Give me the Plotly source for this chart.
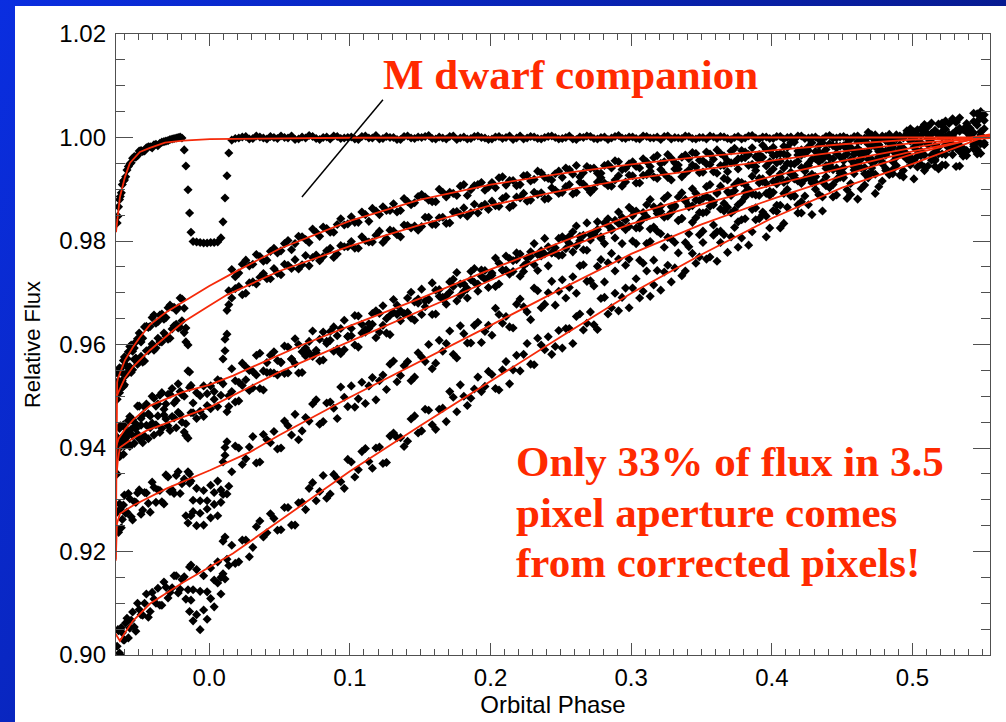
import base64
import plotly.graph_objects as go

# Orbital phase of each exposure (shared by all pixel light curves)
phase = [
    -0.0655, -0.0645, -0.0632, -0.0618, -0.0603, -0.0585, -0.0565, -0.0545, -0.0522, -0.0498,
    -0.0473, -0.0447, -0.0420, -0.0393, -0.0365, -0.0337, -0.0308, -0.0279, -0.0250, -0.0221, -0.0194,
    -0.0178, -0.0166, -0.0151, -0.0140, -0.0130, -0.0115, -0.0090, -0.0065, -0.0040, -0.0015,
    0.0010, 0.0035, 0.0060, 0.0083, 0.0098, 0.0112, 0.0126, 0.0139,
    0.016, 0.021, 0.026, 0.031, 0.036, 0.041, 0.046,
    0.051, 0.056, 0.061, 0.066, 0.071, 0.076, 0.081, 0.086, 0.091, 0.096,
    0.101, 0.106, 0.111, 0.116, 0.121, 0.126, 0.131, 0.136, 0.141, 0.146,
    0.151, 0.156, 0.161, 0.166, 0.171, 0.176, 0.181, 0.186, 0.191, 0.196,
    0.201, 0.206, 0.211, 0.216, 0.221, 0.226, 0.231, 0.236, 0.241, 0.246,
    0.251, 0.256, 0.261, 0.266, 0.271, 0.276, 0.281, 0.286, 0.291, 0.296,
    0.301, 0.306, 0.311, 0.316, 0.321, 0.326, 0.331, 0.336, 0.341, 0.346,
    0.351, 0.356, 0.361, 0.366, 0.371, 0.376, 0.381, 0.386, 0.391, 0.396,
    0.401, 0.406, 0.411, 0.416, 0.421, 0.426, 0.431, 0.436, 0.441, 0.446,
    0.451, 0.456, 0.461, 0.466, 0.471, 0.476, 0.481, 0.486, 0.491, 0.496,
    0.501, 0.506, 0.511, 0.516, 0.521, 0.526, 0.531, 0.536, 0.541, 0.546, 0.551,
]

# Relative flux, one list per pixel light curve
flux_a = [
    0.9835, 0.9866, 0.9886, 0.9909, 0.9918, 0.9937, 0.9949, 0.9960, 0.9962, 0.9974,
    0.9973, 0.9980, 0.9982, 0.9986, 0.9984, 0.9991, 0.9993, 0.9996, 0.9998, 1.0000, 0.9999,
    0.9976, 0.9945, 0.9899, 0.9854, 0.9817, 0.9799, 0.9798, 0.9797, 0.9796, 0.9796,
    0.9797, 0.9797, 0.9798, 0.9806, 0.9837, 0.9883, 0.9926, 0.9970,
    0.9995, 0.9999, 1.0002, 0.9998, 1.0001, 0.9997, 1.0000,
    1.0003, 0.9999, 0.9996, 1.0001, 1.0004, 0.9998, 1.0000, 0.9997, 1.0002, 0.9999,
    1.0001, 0.9996, 1.0003, 0.9999, 0.9997, 1.0002, 1.0000, 0.9996, 1.0003, 0.9998,
    1.0000, 1.0004, 0.9997, 0.9999, 1.0002, 0.9996, 1.0001, 0.9998, 1.0003, 0.9999,
    0.9997, 1.0002, 1.0000, 0.9996, 1.0003, 0.9999, 1.0001, 0.9997, 1.0002, 1.0000,
    0.9998, 1.0003, 0.9996, 1.0000, 1.0002, 0.9997, 1.0001, 0.9999, 1.0004, 0.9998,
    1.0001, 0.9997, 1.0002, 0.9999, 0.9996, 1.0003, 1.0000, 0.9998, 1.0002, 0.9997,
    1.0000, 1.0003, 0.9998, 1.0001, 0.9996, 1.0002, 0.9999, 1.0004, 0.9997, 1.0001,
    0.9998, 1.0002, 1.0000, 0.9996, 1.0003, 0.9999, 1.0001, 0.9997, 1.0004, 0.9999,
    1.0002, 0.9997, 1.0003, 0.9999, 1.0001, 0.9996, 1.0002, 0.9998, None, None,
    None, None, None, None, None, None, None, None, None, None, None,
]
flux_b = [
    0.9545, 0.9530, 0.9553, 0.9545, 0.9576, 0.9573, 0.9596, 0.9587, 0.9605, 0.9622,
    0.9612, 0.9635, 0.9635, 0.9657, 0.9644, 0.9659, 0.9652, 0.9676, 0.9672, 0.9671, 0.9688,
    0.9670, 0.9632, 0.9599, 0.9547, 0.9521, 0.9487, 0.9507, 0.9501, 0.9520, 0.9505,
    0.9520, 0.9509, 0.9532, 0.9529, 0.9572, 0.9610, 0.9666, 0.9704,
    0.9745, 0.9738, 0.9763, 0.9755, 0.9770, 0.9763, 0.9786,
    0.9781, 0.9801, 0.9795, 0.9808, 0.9797, 0.9817, 0.9827, 0.9817, 0.9832, 0.9831,
    0.9847, 0.9836, 0.9851, 0.9863, 0.9851, 0.9859, 0.9872, 0.9859, 0.9876, 0.9874,
    0.9890, 0.9879, 0.9876, 0.9894, 0.9894, 0.9888, 0.9909, 0.9899, 0.9909, 0.9898,
    0.9913, 0.9922, 0.9908, 0.9917, 0.9909, 0.9927, 0.9919, 0.9932, 0.9921, 0.9930,
    0.9923, 0.9938, 0.9946, 0.9932, 0.9940, 0.9931, 0.9946, 0.9941, 0.9953, 0.9940,
    0.9953, 0.9941, 0.9953, 0.9961, 0.9950, 0.9967, 0.9951, 0.9962, 0.9959, 0.9969,
    0.9955, 0.9968, 0.9976, 0.9964, 0.9974, 0.9959, 0.9972, 0.9980, 0.9967, 0.9977,
    0.9981, 0.9969, 0.9981, 0.9991, 0.9976, 0.9982, 0.9973, 0.9990, 0.9988, 0.9980,
    0.9984, 0.9997, 0.9979, 0.9995, 1.0005, 0.9986, 0.9994, 0.9981, 1.0002, 1.0013,
    0.9981, 1.0017, 1.0005, 0.9972, 1.0028, 0.9988, 1.0013, 0.9979, 1.0004, 1.0024, 0.9987,
]
flux_c = [
    0.9494, 0.9519, 0.9514, 0.9530, 0.9522, 0.9545, 0.9557, 0.9551, 0.9574, 0.9567,
    0.9566, 0.9588, 0.9592, 0.9589, 0.9612, 0.9605, 0.9616, 0.9612, 0.9636, 0.9632, 0.9646,
    0.9623, 0.9605, 0.9549, 0.9517, 0.9468, 0.9468, 0.9457, 0.9471, 0.9461, 0.9482,
    0.9476, 0.9494, 0.9480, 0.9502, 0.9524, 0.9588, 0.9620, 0.9677,
    0.9690, 0.9712, 0.9699, 0.9721, 0.9730, 0.9727, 0.9747,
    0.9735, 0.9753, 0.9764, 0.9754, 0.9752, 0.9773, 0.9770, 0.9786, 0.9775, 0.9789,
    0.9799, 0.9786, 0.9801, 0.9798, 0.9819, 0.9805, 0.9819, 0.9808, 0.9830, 0.9829,
    0.9828, 0.9846, 0.9832, 0.9846, 0.9835, 0.9857, 0.9864, 0.9855, 0.9854, 0.9871,
    0.9877, 0.9867, 0.9886, 0.9869, 0.9883, 0.9877, 0.9894, 0.9893, 0.9882, 0.9898,
    0.9894, 0.9909, 0.9894, 0.9910, 0.9894, 0.9914, 0.9912, 0.9906, 0.9926, 0.9914,
    0.9926, 0.9912, 0.9928, 0.9924, 0.9938, 0.9923, 0.9939, 0.9924, 0.9937, 0.9943,
    0.9933, 0.9948, 0.9931, 0.9946, 0.9951, 0.9939, 0.9961, 0.9948, 0.9957, 0.9945,
    0.9965, 0.9954, 0.9966, 0.9949, 0.9966, 0.9975, 0.9959, 0.9969, 0.9961, 0.9984,
    0.9963, 0.9981, 0.9992, 0.9970, 0.9984, 0.9963, 0.9995, 0.9987, 0.9972, 1.0008,
    1.0011, 0.9974, 1.0021, 0.9984, 0.9968, 1.0006, 1.0030, 0.9976, 1.0002, 0.9968, 1.0017,
]
flux_d = [
    0.9421, 0.9403, 0.9443, 0.9421, 0.9440, 0.9423, 0.9461, 0.9455, 0.9447, 0.9481,
    0.9464, 0.9485, 0.9462, 0.9496, 0.9485, 0.9507, 0.9485, 0.9504, 0.9487, 0.9524, 0.9503,
    0.9500, 0.9447, 0.9419, 0.9350, 0.9336, 0.9299, 0.9322, 0.9298, 0.9318, 0.9298,
    0.9328, 0.9314, 0.9336, 0.9319, 0.9373, 0.9401, 0.9470, 0.9501,
    0.9553, 0.9527, 0.9557, 0.9548, 0.9583, 0.9565, 0.9586,
    0.9566, 0.9595, 0.9611, 0.9586, 0.9606, 0.9589, 0.9624, 0.9625, 0.9617, 0.9647,
    0.9631, 0.9655, 0.9629, 0.9660, 0.9660, 0.9650, 0.9687, 0.9665, 0.9690, 0.9682,
    0.9707, 0.9686, 0.9705, 0.9691, 0.9721, 0.9739, 0.9717, 0.9741, 0.9717, 0.9743,
    0.9734, 0.9757, 0.9771, 0.9741, 0.9775, 0.9767, 0.9795, 0.9771, 0.9789, 0.9777,
    0.9808, 0.9795, 0.9829, 0.9811, 0.9802, 0.9837, 0.9835, 0.9821, 0.9856, 0.9840,
    0.9859, 0.9836, 0.9870, 0.9866, 0.9857, 0.9888, 0.9869, 0.9893, 0.9868, 0.9892,
    0.9882, 0.9909, 0.9894, 0.9921, 0.9892, 0.9915, 0.9894, 0.9925, 0.9921, 0.9911,
    0.9939, 0.9923, 0.9950, 0.9920, 0.9942, 0.9950, 0.9924, 0.9958, 0.9945, 0.9969,
    0.9942, 0.9980, 0.9953, 0.9969, 0.9941, 0.9986, 0.9974, 0.9953, 1.0003, 0.9968,
    1.0006, 0.9965, 0.9998, 0.9958, 1.0011, 0.9983, 1.0029, 0.9976, 1.0009, 1.0031, 0.9990,
]
flux_e = [
    0.9350, 0.9398, 0.9385, 0.9413, 0.9404, 0.9429, 0.9403, 0.9424, 0.9437, 0.9418,
    0.9410, 0.9444, 0.9439, 0.9425, 0.9462, 0.9438, 0.9456, 0.9434, 0.9458, 0.9469, 0.9450,
    0.9431, 0.9424, 0.9354, 0.9332, 0.9269, 0.9277, 0.9250, 0.9274, 0.9251, 0.9282,
    0.9265, 0.9291, 0.9269, 0.9295, 0.9310, 0.9386, 0.9412, 0.9480,
    0.9509, 0.9491, 0.9532, 0.9516, 0.9515, 0.9546, 0.9545,
    0.9565, 0.9545, 0.9563, 0.9546, 0.9584, 0.9584, 0.9570, 0.9608, 0.9591, 0.9590,
    0.9617, 0.9595, 0.9624, 0.9639, 0.9624, 0.9622, 0.9662, 0.9646, 0.9662, 0.9647,
    0.9658, 0.9688, 0.9659, 0.9688, 0.9701, 0.9684, 0.9703, 0.9725, 0.9703, 0.9726,
    0.9738, 0.9717, 0.9744, 0.9762, 0.9732, 0.9758, 0.9754, 0.9781, 0.9752, 0.9787,
    0.9773, 0.9809, 0.9791, 0.9783, 0.9812, 0.9822, 0.9795, 0.9824, 0.9834, 0.9822,
    0.9849, 0.9825, 0.9847, 0.9827, 0.9867, 0.9848, 0.9866, 0.9844, 0.9866, 0.9879,
    0.9854, 0.9882, 0.9892, 0.9873, 0.9888, 0.9870, 0.9909, 0.9891, 0.9912, 0.9892,
    0.9915, 0.9930, 0.9900, 0.9927, 0.9911, 0.9946, 0.9924, 0.9914, 0.9948, 0.9941,
    0.9922, 0.9957, 0.9973, 0.9942, 0.9932, 0.9973, 0.9966, 0.9938, 0.9986, 0.9965,
    0.9956, 1.0004, 0.9986, 0.9955, 1.0001, 1.0027, 0.9980, 0.9970, 1.0018, 0.9993, 1.0033,
]
flux_f = [
    0.9276, 0.9237, 0.9282, 0.9262, 0.9309, 0.9276, 0.9302, 0.9261, 0.9295, 0.9319,
    0.9280, 0.9313, 0.9276, 0.9324, 0.9319, 0.9296, 0.9348, 0.9316, 0.9312, 0.9354, 0.9331,
    0.9340, 0.9269, 0.9255, 0.9170, 0.9174, 0.9126, 0.9165, 0.9123, 0.9153, 0.9122,
    0.9168, 0.9145, 0.9180, 0.9150, 0.9220, 0.9228, 0.9311, 0.9326,
    0.9354, 0.9400, 0.9379, 0.9422, 0.9373, 0.9416, 0.9432,
    0.9400, 0.9443, 0.9465, 0.9433, 0.9452, 0.9493, 0.9451, 0.9489, 0.9457, 0.9498,
    0.9520, 0.9495, 0.9486, 0.9536, 0.9530, 0.9513, 0.9568, 0.9540, 0.9567, 0.9537,
    0.9576, 0.9600, 0.9564, 0.9587, 0.9626, 0.9574, 0.9621, 0.9603, 0.9643, 0.9625,
    0.9618, 0.9658, 0.9654, 0.9632, 0.9688, 0.9663, 0.9709, 0.9671, 0.9700, 0.9676,
    0.9725, 0.9710, 0.9699, 0.9754, 0.9723, 0.9751, 0.9721, 0.9776, 0.9765, 0.9753,
    0.9800, 0.9763, 0.9795, 0.9763, 0.9814, 0.9807, 0.9797, 0.9843, 0.9814, 0.9845,
    0.9819, 0.9867, 0.9818, 0.9858, 0.9854, 0.9837, 0.9885, 0.9861, 0.9888, 0.9848,
    0.9894, 0.9869, 0.9917, 0.9886, 0.9876, 0.9923, 0.9913, 0.9885, 0.9940, 0.9919,
    0.9955, 0.9911, 0.9943, 0.9908, 0.9958, 0.9983, 0.9940, 0.9930, 0.9978, 0.9958,
    0.9999, 0.9948, 0.9988, 0.9944, 1.0023, 0.9979, 1.0012, 0.9964, 1.0012, 1.0046, 0.9986,
]
flux_g = [
    0.9017, 0.9047, 0.9000, 0.9043, 0.9029, 0.9071, 0.9052, 0.9083, 0.9046, 0.9088,
    0.9077, 0.9118, 0.9084, 0.9108, 0.9129, 0.9096, 0.9131, 0.9121, 0.9153, 0.9120, 0.9146,
    0.9151, 0.9108, 0.9126, 0.9084, 0.9106, 0.9066, 0.9078, 0.9049, 0.9087, 0.9069,
    0.9109, 0.9093, 0.9139, 0.9118, 0.9157, 0.9147, 0.9185, 0.9173,
    0.9212, 0.9180, 0.9222, 0.9208, 0.9259, 0.9236, 0.9264,
    0.9242, 0.9285, 0.9251, 0.9295, 0.9322, 0.9298, 0.9347, 0.9311, 0.9341, 0.9322,
    0.9373, 0.9358, 0.9399, 0.9361, 0.9402, 0.9372, 0.9429, 0.9420, 0.9413, 0.9462,
    0.9433, 0.9473, 0.9436, 0.9477, 0.9509, 0.9470, 0.9500, 0.9496, 0.9537, 0.9519,
    0.9542, 0.9512, 0.9567, 0.9551, 0.9549, 0.9602, 0.9561, 0.9599, 0.9615, 0.9596,
    0.9593, 0.9631, 0.9654, 0.9628, 0.9663, 0.9629, 0.9691, 0.9671, 0.9665, 0.9709,
    0.9709, 0.9690, 0.9742, 0.9715, 0.9705, 0.9753, 0.9748, 0.9733, 0.9789, 0.9757,
    0.9797, 0.9769, 0.9761, 0.9812, 0.9808, 0.9788, 0.9843, 0.9818, 0.9843, 0.9808,
    0.9859, 0.9825, 0.9865, 0.9888, 0.9854, 0.9870, 0.9900, 0.9858, 0.9903, 0.9889,
    0.9930, 0.9890, 0.9881, 0.9930, 0.9952, 0.9905, 0.9936, 0.9974, 0.9927, 0.9965,
    0.9920, 0.9990, 0.9945, 1.0014, 0.9947, 0.9991, 0.9944, 1.0015, 1.0000, 0.9977, 1.0044,
]

# Interleaved exposures, half a cadence later
phase_mid = [
    -0.0650, -0.0638, -0.0625, -0.0610, -0.0594, -0.0575, -0.0555, -0.0533, -0.0510, -0.0485,
    -0.0460, -0.0433, -0.0406, -0.0379, -0.0351, -0.0322, -0.0293, -0.0264, -0.0235, -0.0207,
    0.0185, 0.0235, 0.0285, 0.0335, 0.0385, 0.0435, 0.0485,
    0.0535, 0.0585, 0.0635, 0.0685, 0.0735, 0.0785, 0.0835, 0.0885, 0.0935, 0.0985,
    0.1035, 0.1085, 0.1135, 0.1185, 0.1235, 0.1285, 0.1335, 0.1385, 0.1435, 0.1485,
    0.1535, 0.1585, 0.1635, 0.1685, 0.1735, 0.1785, 0.1835, 0.1885, 0.1935, 0.1985,
    0.2035, 0.2085, 0.2135, 0.2185, 0.2235, 0.2285, 0.2335, 0.2385, 0.2435, 0.2485,
    0.2535, 0.2585, 0.2635, 0.2685, 0.2735, 0.2785, 0.2835, 0.2885, 0.2935, 0.2985,
    0.3035, 0.3085, 0.3135, 0.3185, 0.3235, 0.3285, 0.3335, 0.3385, 0.3435, 0.3485,
    0.3535, 0.3585, 0.3635, 0.3685, 0.3735, 0.3785, 0.3835, 0.3885, 0.3935, 0.3985,
    0.4035, 0.4085, 0.4135, 0.4185, 0.4235, 0.4285, 0.4335, 0.4385, 0.4435, 0.4485,
    0.4535, 0.4585, 0.4635, 0.4685, 0.4735, 0.4785, 0.4835, 0.4885, 0.4935, 0.4985,
    0.5035, 0.5085, 0.5135, 0.5185, 0.5235, 0.5285, 0.5335, 0.5385, 0.5435, 0.5485,
]
flux_a_mid = [
    0.9848, 0.9880, 0.9893, 0.9916, 0.9924, 0.9944, 0.9951, 0.9963, 0.9965, 0.9975,
    0.9974, 0.9982, 0.9980, 0.9987, 0.9989, 0.9992, 0.9994, 0.9997, 0.9999, 1.0001,
    0.9998, 1.0001, 0.9997, 1.0003, 0.9999, 1.0002, 0.9998,
    1.0000, 1.0003, 0.9997, 0.9999, 1.0002, 0.9996, 1.0001, 1.0003, 0.9998, 1.0000,
    0.9997, 1.0002, 0.9999, 1.0004, 0.9998, 1.0000, 0.9996, 1.0002, 0.9999, 1.0001,
    1.0002, 0.9998, 1.0001, 0.9997, 1.0003, 0.9999, 0.9997, 1.0002, 1.0000, 0.9996,
    1.0001, 0.9998, 1.0003, 0.9999, 0.9997, 1.0002, 0.9998, 1.0000, 1.0003, 0.9997,
    1.0000, 0.9997, 1.0001, 1.0003, 0.9998, 1.0000, 0.9996, 1.0002, 0.9999, 1.0001,
    0.9998, 1.0003, 0.9999, 1.0001, 1.0002, 0.9997, 0.9999, 1.0003, 0.9998, 1.0000,
    0.9997, 1.0001, 1.0002, 0.9998, 1.0000, 0.9997, 1.0003, 0.9999, 1.0001, 0.9998,
    1.0002, 0.9997, 1.0001, 1.0003, 0.9998, 1.0000, 0.9996, 1.0002, 0.9999, 1.0001,
    0.9999, 1.0002, 0.9997, 1.0001, 0.9998, 1.0003, 0.9999, None, None, None,
    None, None, None, None, None, None, None, None, None, None,
]
flux_b_mid = [
    0.9525, 0.9555, 0.9548, 0.9569, 0.9561, 0.9586, 0.9599, 0.9593, 0.9611, 0.9605,
    0.9634, 0.9633, 0.9652, 0.9641, 0.9657, 0.9649, 0.9671, 0.9672, 0.9666, 0.9690,
    0.9731, 0.9755, 0.9752, 0.9774, 0.9761, 0.9780, 0.9777,
    0.9795, 0.9783, 0.9809, 0.9803, 0.9823, 0.9809, 0.9824, 0.9817, 0.9843, 0.9833,
    0.9836, 0.9856, 0.9838, 0.9858, 0.9866, 0.9859, 0.9856, 0.9882, 0.9870, 0.9886,
    0.9885, 0.9876, 0.9900, 0.9885, 0.9892, 0.9906, 0.9888, 0.9907, 0.9913, 0.9904,
    0.9903, 0.9924, 0.9917, 0.9907, 0.9926, 0.9916, 0.9935, 0.9923, 0.9918, 0.9935,
    0.9941, 0.9929, 0.9924, 0.9944, 0.9941, 0.9931, 0.9948, 0.9955, 0.9938, 0.9949,
    0.9944, 0.9959, 0.9944, 0.9965, 0.9953, 0.9960, 0.9947, 0.9966, 0.9971, 0.9956,
    0.9972, 0.9958, 0.9969, 0.9955, 0.9979, 0.9975, 0.9967, 0.9963, 0.9985, 0.9975,
    0.9967, 0.9983, 0.9990, 0.9974, 0.9969, 0.9990, 0.9984, 0.9977, 0.9999, 0.9983,
    0.9998, 0.9974, 0.9994, 1.0010, 0.9982, 0.9974, 1.0006, 0.9997, 0.9979, 1.0017,
    0.9974, 1.0025, 1.0007, 0.9968, 1.0016, 1.0036, 0.9985, 0.9973, 1.0031, 1.0005,
]
flux_c_mid = [
    0.9516, 0.9507, 0.9529, 0.9519, 0.9540, 0.9554, 0.9546, 0.9571, 0.9562, 0.9577,
    0.9568, 0.9588, 0.9601, 0.9593, 0.9605, 0.9622, 0.9610, 0.9630, 0.9639, 0.9633,
    0.9708, 0.9696, 0.9719, 0.9717, 0.9737, 0.9727, 0.9738,
    0.9755, 0.9747, 0.9746, 0.9772, 0.9768, 0.9762, 0.9781, 0.9768, 0.9791, 0.9789,
    0.9786, 0.9808, 0.9798, 0.9811, 0.9797, 0.9821, 0.9812, 0.9831, 0.9825, 0.9821,
    0.9846, 0.9832, 0.9845, 0.9834, 0.9856, 0.9851, 0.9848, 0.9871, 0.9867, 0.9861,
    0.9868, 0.9882, 0.9865, 0.9885, 0.9892, 0.9879, 0.9890, 0.9881, 0.9903, 0.9892,
    0.9905, 0.9891, 0.9914, 0.9903, 0.9901, 0.9922, 0.9907, 0.9918, 0.9906, 0.9927,
    0.9912, 0.9927, 0.9935, 0.9921, 0.9930, 0.9918, 0.9939, 0.9931, 0.9947, 0.9932,
    0.9949, 0.9934, 0.9946, 0.9934, 0.9952, 0.9960, 0.9946, 0.9944, 0.9962, 0.9953,
    0.9951, 0.9968, 0.9949, 0.9966, 0.9975, 0.9958, 0.9972, 0.9966, 0.9984, 0.9963,
    0.9989, 0.9967, 0.9958, 0.9987, 1.0005, 0.9968, 0.9990, 0.9968, 0.9999, 0.9993,
    0.9964, 1.0011, 1.0028, 0.9981, 1.0002, 0.9967, 1.0012, 1.0027, 0.9978, 1.0011,
]
flux_d_mid = [
    0.9400, 0.9438, 0.9419, 0.9445, 0.9419, 0.9453, 0.9454, 0.9440, 0.9481, 0.9457,
    0.9479, 0.9466, 0.9500, 0.9481, 0.9502, 0.9475, 0.9504, 0.9515, 0.9492, 0.9509,
    0.9530, 0.9564, 0.9550, 0.9579, 0.9549, 0.9579, 0.9569,
    0.9597, 0.9572, 0.9600, 0.9593, 0.9626, 0.9610, 0.9602, 0.9634, 0.9631, 0.9615,
    0.9656, 0.9639, 0.9631, 0.9665, 0.9675, 0.9656, 0.9676, 0.9660, 0.9701, 0.9688,
    0.9684, 0.9719, 0.9706, 0.9694, 0.9726, 0.9717, 0.9708, 0.9747, 0.9744, 0.9730,
    0.9767, 0.9744, 0.9766, 0.9777, 0.9752, 0.9779, 0.9774, 0.9805, 0.9777, 0.9805,
    0.9785, 0.9818, 0.9809, 0.9835, 0.9813, 0.9808, 0.9843, 0.9840, 0.9829, 0.9865,
    0.9858, 0.9843, 0.9880, 0.9858, 0.9882, 0.9855, 0.9885, 0.9877, 0.9901, 0.9878,
    0.9905, 0.9876, 0.9906, 0.9918, 0.9897, 0.9913, 0.9898, 0.9936, 0.9915, 0.9933,
    0.9910, 0.9941, 0.9929, 0.9954, 0.9942, 0.9929, 0.9967, 0.9940, 0.9959, 0.9935,
    0.9977, 0.9937, 0.9973, 0.9958, 0.9993, 0.9953, 0.9976, 1.0005, 0.9965, 0.9954,
    1.0015, 0.9966, 0.9956, 1.0004, 1.0032, 0.9986, 0.9973, 1.0022, 0.9987, 1.0040,
]
flux_e_mid = [
    0.9388, 0.9383, 0.9409, 0.9388, 0.9424, 0.9408, 0.9436, 0.9409, 0.9427, 0.9444,
    0.9423, 0.9418, 0.9448, 0.9445, 0.9430, 0.9464, 0.9443, 0.9461, 0.9439, 0.9465,
    0.9489, 0.9521, 0.9511, 0.9541, 0.9512, 0.9546, 0.9541,
    0.9544, 0.9572, 0.9545, 0.9578, 0.9577, 0.9568, 0.9606, 0.9587, 0.9582, 0.9616,
    0.9599, 0.9622, 0.9640, 0.9613, 0.9637, 0.9619, 0.9658, 0.9659, 0.9651, 0.9680,
    0.9673, 0.9658, 0.9693, 0.9678, 0.9712, 0.9695, 0.9690, 0.9720, 0.9732, 0.9710,
    0.9712, 0.9743, 0.9736, 0.9764, 0.9741, 0.9770, 0.9743, 0.9775, 0.9777, 0.9772,
    0.9803, 0.9779, 0.9801, 0.9782, 0.9816, 0.9805, 0.9830, 0.9806, 0.9846, 0.9828,
    0.9825, 0.9855, 0.9823, 0.9853, 0.9846, 0.9866, 0.9840, 0.9880, 0.9868, 0.9855,
    0.9886, 0.9870, 0.9862, 0.9895, 0.9908, 0.9876, 0.9900, 0.9889, 0.9920, 0.9888,
    0.9918, 0.9892, 0.9933, 0.9916, 0.9935, 0.9912, 0.9953, 0.9924, 0.9938, 0.9923,
    0.9968, 0.9930, 0.9941, 0.9973, 0.9929, 0.9973, 0.9995, 0.9946, 0.9974, 0.9947,
    1.0005, 0.9943, 0.9997, 1.0026, 0.9967, 0.9981, 1.0018, 0.9965, 1.0047, 0.9988,
]
flux_f_mid = [
    0.9241, 0.9292, 0.9246, 0.9290, 0.9274, 0.9312, 0.9267, 0.9296, 0.9313, 0.9272,
    0.9314, 0.9293, 0.9334, 0.9295, 0.9318, 0.9292, 0.9344, 0.9319, 0.9347, 0.9312,
    0.9404, 0.9368, 0.9402, 0.9371, 0.9426, 0.9410, 0.9398,
    0.9452, 0.9425, 0.9416, 0.9459, 0.9485, 0.9446, 0.9487, 0.9477, 0.9518, 0.9480,
    0.9479, 0.9527, 0.9520, 0.9493, 0.9541, 0.9562, 0.9528, 0.9559, 0.9530, 0.9584,
    0.9567, 0.9553, 0.9608, 0.9602, 0.9581, 0.9636, 0.9603, 0.9637, 0.9604, 0.9637,
    0.9670, 0.9641, 0.9634, 0.9678, 0.9673, 0.9648, 0.9704, 0.9678, 0.9722, 0.9703,
    0.9690, 0.9731, 0.9752, 0.9722, 0.9713, 0.9764, 0.9758, 0.9742, 0.9795, 0.9765,
    0.9795, 0.9757, 0.9799, 0.9819, 0.9788, 0.9804, 0.9839, 0.9797, 0.9836, 0.9812,
    0.9856, 0.9831, 0.9819, 0.9865, 0.9860, 0.9841, 0.9893, 0.9864, 0.9851, 0.9896,
    0.9869, 0.9913, 0.9887, 0.9870, 0.9920, 0.9916, 0.9890, 0.9946, 0.9909, 0.9931,
    0.9899, 0.9949, 0.9965, 0.9922, 0.9954, 0.9916, 0.9976, 0.9962, 0.9936, 1.0002,
    0.9943, 1.0014, 0.9966, 1.0005, 0.9947, 1.0003, 1.0038, 0.9975, 1.0009, 0.9969,
]
flux_g_mid = [
    0.9049, 0.9004, 0.9053, 0.9029, 0.9062, 0.9033, 0.9067, 0.9054, 0.9100, 0.9078,
    0.9100, 0.9073, 0.9121, 0.9100, 0.9096, 0.9141, 0.9110, 0.9130, 0.9153, 0.9127,
    0.9177, 0.9222, 0.9190, 0.9248, 0.9228, 0.9273, 0.9241,
    0.9285, 0.9251, 0.9294, 0.9281, 0.9333, 0.9316, 0.9303, 0.9349, 0.9335, 0.9378,
    0.9344, 0.9393, 0.9374, 0.9400, 0.9370, 0.9423, 0.9420, 0.9403, 0.9456, 0.9429,
    0.9475, 0.9445, 0.9475, 0.9451, 0.9498, 0.9522, 0.9482, 0.9514, 0.9509, 0.9548,
    0.9515, 0.9551, 0.9524, 0.9579, 0.9581, 0.9562, 0.9612, 0.9590, 0.9581, 0.9627,
    0.9631, 0.9602, 0.9659, 0.9641, 0.9638, 0.9689, 0.9659, 0.9699, 0.9691, 0.9671,
    0.9727, 0.9703, 0.9693, 0.9743, 0.9740, 0.9721, 0.9777, 0.9742, 0.9776, 0.9769,
    0.9765, 0.9811, 0.9797, 0.9778, 0.9826, 0.9806, 0.9792, 0.9841, 0.9856, 0.9825,
    0.9857, 0.9834, 0.9887, 0.9854, 0.9887, 0.9851, 0.9889, 0.9907, 0.9885, 0.9925,
    0.9882, 0.9943, 0.9901, 0.9930, 0.9892, 0.9949, 0.9928, 0.9967, 0.9924, 0.9962,
    0.9989, 0.9936, 1.0008, 0.9939, 0.9986, 1.0007, 0.9945, 1.0010, 0.9983, 1.0050,
]

# Ramp model fits (phase, relative flux) for each light curve
fit_a_x = [-0.0663, -0.0649, -0.0635, -0.0599, -0.0564, -0.0493, -0.0422, -0.0315, -0.0187,
           0.0005, 0.036, 0.10, 0.20, 0.30, 0.40, 0.50, 0.5551]
fit_a_y = [0.9817, 0.9856, 0.9885, 0.9924, 0.9951, 0.9972, 0.9980, 0.9990, 0.9994,
           0.9997, 0.9998, 0.99995, 1.0, 1.0, 1.0, 1.0, 1.0]
fit_b_x = [-0.0665, -0.0655, -0.0649, -0.0599, -0.0542, -0.0493, -0.0422, -0.0315, -0.0187,
           0.0000, 0.0168, 0.05, 0.10, 0.15, 0.20, 0.25, 0.30, 0.35, 0.40, 0.45, 0.50, 0.5551]
fit_b_y = [0.9185, 0.9527, 0.9535, 0.9570, 0.9595, 0.9614, 0.9638, 0.9661, 0.9682,
           0.9713, 0.9738, 0.9785, 0.9839, 0.9880, 0.9909, 0.9930, 0.9948, 0.9963, 0.9975,
           0.9987, 0.9996, 0.9999]
fit_c_x = [-0.0660, -0.0649, -0.0600, -0.0542, -0.0422, -0.0187, 0.0000, 0.0126, 0.05, 0.10,
           0.15, 0.20, 0.25, 0.30, 0.35, 0.40, 0.45, 0.50, 0.5551]
fit_c_y = [0.9498, 0.9506, 0.9535, 0.9557, 0.9589, 0.9643, 0.9675, 0.9696, 0.9742, 0.9790,
           0.9831, 0.9869, 0.9897, 0.9920, 0.9938, 0.9956, 0.9973, 0.9989, 0.9999]
fit_d_x = [-0.0660, -0.0645, -0.0600, -0.0540, -0.0420, -0.0190, 0.0000, 0.0170, 0.0400,
           0.0650, 0.10, 0.15, 0.20, 0.25, 0.30, 0.35, 0.40, 0.45, 0.50, 0.5551]
fit_d_y = [0.9405, 0.9418, 0.9436, 0.9455, 0.9482, 0.9508, 0.9522, 0.9540, 0.9568,
           0.9598, 0.9636, 0.9689, 0.9745, 0.9797, 0.9850, 0.9890, 0.9925, 0.9955, 0.9980, 1.0006]
fit_e_x = [-0.0663, -0.0650, -0.0635, -0.0542, -0.0443, -0.0301, 0.0005, 0.05, 0.10, 0.15,
           0.20, 0.25, 0.30, 0.35, 0.40, 0.45, 0.50, 0.5551]
fit_e_y = [0.9337, 0.9376, 0.9401, 0.9419, 0.9434, 0.9448, 0.9479, 0.9547, 0.9606, 0.9665,
           0.9724, 0.9783, 0.9833, 0.9870, 0.9908, 0.9941, 0.9973, 1.0003]
fit_f_x = [-0.0665, -0.0656, -0.0635, -0.0542, -0.0301, 0.0005, 0.0289, 0.05, 0.10, 0.15,
           0.20, 0.25, 0.30, 0.35, 0.40, 0.45, 0.50, 0.5551]
fit_f_y = [0.9182, 0.9254, 0.9273, 0.9289, 0.9322, 0.9357, 0.9392, 0.9425, 0.9498, 0.9567,
           0.9637, 0.9707, 0.9775, 0.9832, 0.9881, 0.9926, 0.9968, 1.0005]
fit_g_x = [-0.0671, -0.0650, -0.0635, -0.0599, -0.0542, -0.0422, -0.0187, 0.0168, 0.05, 0.10,
           0.15, 0.20, 0.25, 0.30, 0.35, 0.40, 0.45, 0.50, 0.5551]
fit_g_y = [0.9043, 0.9035, 0.9027, 0.9043, 0.9066, 0.9099, 0.9140, 0.9196, 0.9260, 0.9355,
           0.9443, 0.9529, 0.9615, 0.9699, 0.9774, 0.9844, 0.9903, 0.9949, 1.0005]

x_ticks = [0.0, 0.1, 0.2, 0.3, 0.4, 0.5]
y_ticks = [0.90, 0.92, 0.94, 0.96, 0.98, 1.00, 1.02]

label_top = "M dwarf companion"
label_note = ["Only 33% of flux in 3.5", "pixel aperture comes", "from corrected pixels!"]

W, H = 1006, 722
ML, MR, MT, MB = 116, 16, 34, 67
RED = "#ff2a00"
AXIS = "#505050"

fig = go.Figure()

marker = dict(symbol="diamond", size=7, color="black", line=dict(width=0))
for flux in [flux_a, flux_b, flux_c, flux_d, flux_e, flux_f, flux_g]:
    fig.add_trace(go.Scatter(x=phase, y=flux, mode="markers", marker=marker,
                             showlegend=False, hoverinfo="skip"))
for flux in [flux_a_mid, flux_b_mid, flux_c_mid, flux_d_mid, flux_e_mid, flux_f_mid, flux_g_mid]:
    fig.add_trace(go.Scatter(x=phase_mid, y=flux, mode="markers", marker=marker,
                             showlegend=False, hoverinfo="skip"))

for fx, fy in [(fit_a_x, fit_a_y), (fit_b_x, fit_b_y), (fit_c_x, fit_c_y), (fit_d_x, fit_d_y),
               (fit_e_x, fit_e_y), (fit_f_x, fit_f_y), (fit_g_x, fit_g_y)]:
    fig.add_trace(go.Scatter(x=fx, y=fy, mode="lines", line=dict(color="#f52a0a", width=1.8),
                             showlegend=False, hoverinfo="skip"))

# Slide frame: blue gradient border around a white panel
svg = (
    f'<svg xmlns="http://www.w3.org/2000/svg" width="{W}" height="{H}">'
    '<defs><linearGradient id="g" x1="0" y1="0" x2="1" y2="0.4">'
    '<stop offset="0" stop-color="#0a2ee0"/><stop offset="1" stop-color="#071885"/>'
    '</linearGradient></defs>'
    f'<rect width="{W}" height="{H}" fill="url(#g)"/>'
    f'<rect x="15" y="6" width="{W - 15}" height="{H - 6}" fill="#ffffff"/>'
    '</svg>'
)
bg_src = "data:image/svg+xml;base64," + base64.b64encode(svg.encode()).decode()
pw, ph = W - ML - MR, H - MT - MB

tick_font = dict(family="Liberation Sans, Arial, sans-serif", size=24, color="black")

fig.update_layout(
    width=W, height=H,
    margin=dict(l=ML, r=MR, t=MT, b=MB, pad=0),
    paper_bgcolor="#0a22c0",
    plot_bgcolor="white",
    images=[dict(source=bg_src, xref="paper", yref="paper",
                 x=-ML / pw, y=1 + MT / ph, sizex=W / pw, sizey=H / ph,
                 xanchor="left", yanchor="top", sizing="stretch", layer="below")],
    xaxis=dict(
        range=[-0.0663, 0.5551], tickvals=x_ticks, tickformat=".1f",
        showline=True, linecolor=AXIS, linewidth=1.3, mirror="allticks",
        ticks="inside", ticklen=12, tickwidth=1.3, tickcolor=AXIS,
        minor=dict(dtick=0.01, tick0=0, ticks="inside", ticklen=6, tickwidth=1,
                   tickcolor=AXIS, showgrid=False),
        showgrid=False, zeroline=False, automargin=False,
        tickfont=tick_font, ticklabelstandoff=1,
        title=dict(text="Orbital Phase", font=tick_font, standoff=0),
    ),
    yaxis=dict(
        range=[0.90, 1.02], tickvals=y_ticks, tickformat=".2f",
        showline=True, linecolor=AXIS, linewidth=1.3, mirror="allticks",
        ticks="inside", ticklen=17, tickwidth=1.3, tickcolor=AXIS,
        minor=dict(dtick=0.005, tick0=0.9, ticks="inside", ticklen=9, tickwidth=1,
                   tickcolor=AXIS, showgrid=False),
        showgrid=False, zeroline=False, automargin=False,
        tickfont=tick_font, ticklabelstandoff=4,
        title=dict(text="Relative Flux", font=dict(family="Liberation Sans, Arial, sans-serif",
                                                   size=22, color="black"), standoff=12),
    ),
    shapes=[dict(type="line", xref="x", yref="y", x0=0.0659, y0=0.98852, x1=0.1235, y1=1.0073,
                 line=dict(color="black", width=1.5))],
)

fig.add_annotation(x=0.257, y=1.0121, xref="x", yref="y", text=f"<b>{label_top}</b>",
                   showarrow=False, xanchor="center", yanchor="middle",
                   font=dict(family="Liberation Serif, Times New Roman, serif", size=43, color=RED))
for i, line in enumerate(label_note):
    fig.add_annotation(x=0.2166, y=0.9373 - i * 0.0097, xref="x", yref="y",
                       text=f"<b>{line}</b>", showarrow=False,
                       font=dict(family="Liberation Serif, Times New Roman, serif", size=43, color=RED),
                       xanchor="left", yanchor="middle")

fig.write_html("out.html")
